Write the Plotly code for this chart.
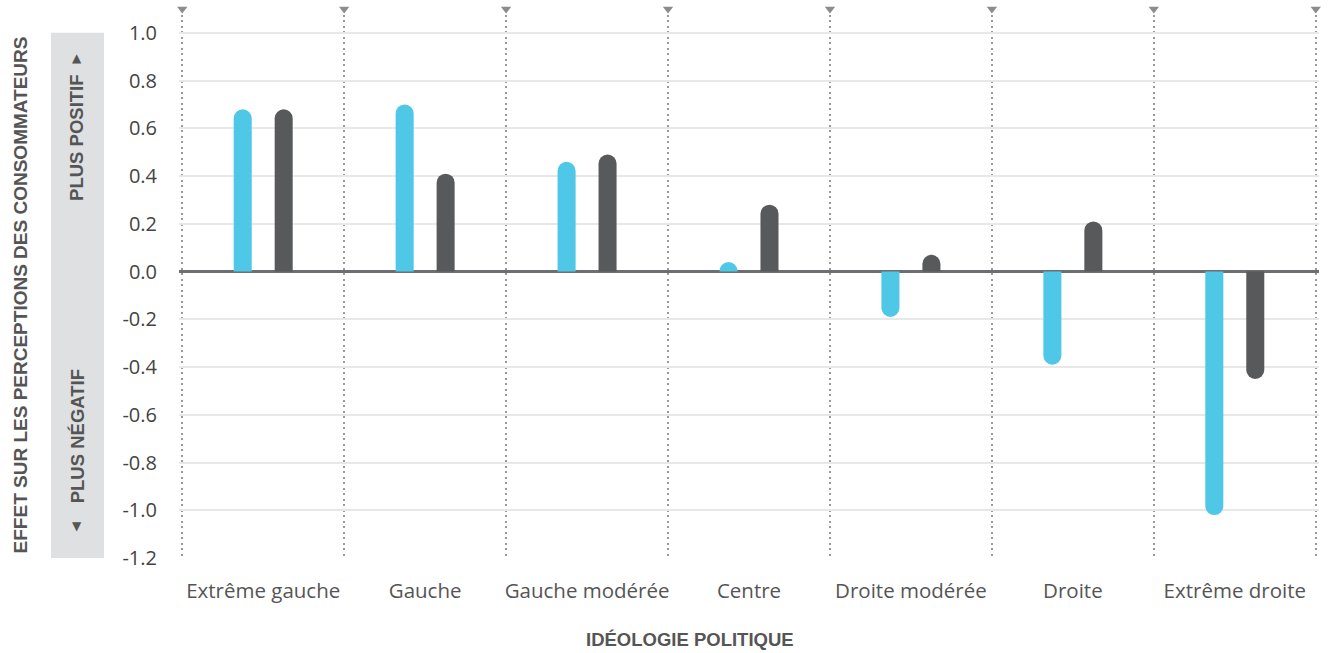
import plotly.graph_objects as go

# Political ideology groups along the x axis
categories = ["Extrême gauche", "Gauche", "Gauche modérée", "Centre",
              "Droite modérée", "Droite", "Extrême droite"]

# Effect on consumer perceptions, two series per group
series_blue = [0.68, 0.70, 0.46, 0.04, -0.19, -0.39, -1.02]
series_grey = [0.68, 0.41, 0.49, 0.28, 0.07, 0.21, -0.45]

y_ticks = [1.0, 0.8, 0.6, 0.4, 0.2, 0.0, -0.2, -0.4, -0.6, -0.8, -1.0, -1.2]
y_tick_labels = [f"{v:.1f}" for v in y_ticks]

BLUE = "#4ec8e6"
GREY = "#58595b"
TEXT = "#555555"
REG_FONT = "Open Sans"
BOLD_FONT = "Liberation Sans"

x_pos = list(range(len(categories)))
boundaries = [i - 0.5 for i in range(len(categories) + 1)]
y_min, y_max = -1.2, 1.1
pad = 0.02  # keeps the outer separators inside the plotting area

fig = go.Figure()
fig.add_trace(go.Bar(x=x_pos, y=series_blue, marker=dict(color=BLUE, line=dict(width=0)),
                     hoverinfo="y", showlegend=False))
fig.add_trace(go.Bar(x=x_pos, y=series_grey, marker=dict(color=GREY, line=dict(width=0)),
                     hoverinfo="y", showlegend=False))

# small pointers on top of each group separator
fig.add_trace(go.Scatter(x=boundaries, y=[y_max] * len(boundaries), mode="markers",
                         marker=dict(symbol="triangle-down", size=9, color="#8c8c8c"),
                         cliponaxis=False, hoverinfo="skip", showlegend=False))

fig.update_layout(
    width=1332, height=653,
    margin=dict(l=179, r=13, t=9, b=95),
    paper_bgcolor="white", plot_bgcolor="white",
    barmode="group", bargap=0.494, bargroupgap=0.56,
    barcornerradius=9,
    font=dict(family=REG_FONT, color=TEXT),
)

fig.update_xaxes(
    range=[boundaries[0] - pad, boundaries[-1] + pad],
    tickmode="array", tickvals=x_pos, ticktext=categories,
    tickfont=dict(size=20.5, color=TEXT, family=REG_FONT),
    ticks="", showgrid=False, zeroline=False, showline=False,
    minor=dict(tickmode="array", tickvals=boundaries, showgrid=True,
               gridcolor="#9a9a9a", gridwidth=2, griddash="2px,3.5px", ticks=""),
    ticklabelstandoff=18,
)

fig.update_yaxes(
    range=[y_min, y_max],
    tickmode="array", tickvals=y_ticks, ticktext=y_tick_labels,
    tickfont=dict(size=20, color="#444444", family=REG_FONT),
    ticks="", showgrid=True, gridcolor="#e8e8e8", gridwidth=1.5,
    zeroline=True, zerolinecolor="#6d6e71", zerolinewidth=2.5,
    showline=False, ticklabelstandoff=21,
)

# pixel -> paper helper for the left-side decorations
plot_w = 1332 - 179 - 13
def px_to_paper(px):
    return (px - 179) / plot_w

# shaded band behind the direction hints
fig.add_shape(type="rect", xref="paper", yref="y",
              x0=px_to_paper(51), x1=px_to_paper(104), y0=-1.2, y1=1.0,
              fillcolor="#dfe0e2", line=dict(width=0), layer="below")

bold = dict(family=BOLD_FONT, size=18.5, color=TEXT)
band_x = px_to_paper(77)
fig.add_annotation(text="<b>PLUS POSITIF</b>", xref="paper", yref="y", xanchor="center",
                   x=band_x, y=0.56, textangle=-90, showarrow=False, font=bold)
fig.add_annotation(text="▲", xref="paper", yref="y", xanchor="center", x=band_x, y=0.895,
                   showarrow=False, font=dict(family="DejaVu Sans", size=12, color=TEXT))
fig.add_annotation(text="<b>PLUS NÉGATIF</b>", xref="paper", yref="y", xanchor="center",
                   x=band_x, y=-0.69, textangle=-90, showarrow=False, font=bold)
fig.add_annotation(text="▼", xref="paper", yref="y", xanchor="center", x=band_x, y=-1.067,
                   showarrow=False, font=dict(family="DejaVu Sans", size=12, color=TEXT))

fig.add_annotation(text="<b>EFFET SUR LES PERCEPTIONS DES CONSOMMATEURS</b>",
                   xref="paper", yref="y", xanchor="center", x=px_to_paper(20), y=-0.1,
                   textangle=-90, showarrow=False, font=dict(family=BOLD_FONT, size=19, color=TEXT))
fig.add_annotation(text="<b>IDÉOLOGIE POLITIQUE</b>", xref="paper", yref="paper",
                   xanchor="center", x=px_to_paper(690), y=-0.149, yanchor="middle",
                   showarrow=False, font=dict(family=BOLD_FONT, size=18.5, color=TEXT))

fig.write_html("out.html")
